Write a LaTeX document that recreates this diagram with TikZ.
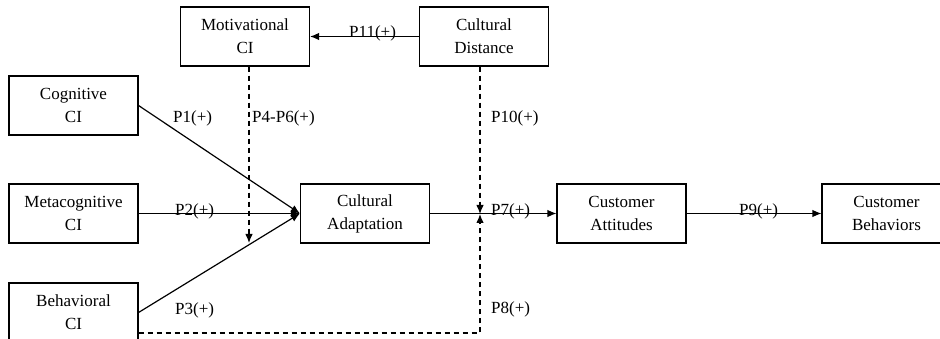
\documentclass[tikz,border=0pt]{standalone}
\usepackage{fontspec}
\setmainfont{Liberation Serif}
\usetikzlibrary{arrows.meta}
\begin{document}
\begin{tikzpicture}[x=1pt,y=-1pt,
  box/.style={draw, line width=1.1pt, minimum width=129pt, minimum height=59pt, align=center, inner sep=0pt, font=\fontsize{17}{23}\selectfont},
  lbl/.style={anchor=base west, inner sep=0pt, font=\fontsize{17}{23}\selectfont},
  conn/.style={line width=1.2pt, -{Latex[length=9pt,width=7.5pt]}},
  dconn/.style={line width=1.1pt, dash pattern=on 5pt off 4pt, -{Latex[length=9pt,width=7.5pt]}}]
\useasboundingbox (0,0) rectangle (940,339);
\clip (0,0) rectangle (940,339);
\fill[white] (0,0) rectangle (940,339);
\node[box] (mot) at (245,36.5) {Motivational\\CI};
\node[box] (cd) at (484,36.5) {Cultural\\Distance};
\node[box] (cog) at (73.5,105.5) {Cognitive\\CI};
\node[box] (meta) at (73.5,213.5) {Metacognitive\\CI};
\node[box] (beh) at (73.5,312.5) {Behavioral\\CI};
\node[box] (ca) at (365,213.5) {Cultural\\Adaptation};
\node[box] (att) at (621.5,213.5) {Customer\\Attitudes};
\node[box] (cb) at (886.5,213.5) {Customer\\Behaviors};
\coordinate (mtip) at (249,243);
\coordinate (j) at (480,214);
\coordinate (bc) at (480,333);
% solid connectors
\draw[conn] (cd.west) -- (mot.east);
\draw[conn] (cog.east) -- (ca.west);
\draw[conn] (meta.east) -- (ca.west);
\draw[conn] (beh.east) -- (ca.west);
\draw[conn] (ca.east) -- (att.west);
\draw[conn] (att.east) -- (cb.west);
% dashed moderators
\draw[dconn] (mtip |- mot.south) -- (mtip);
\draw[dconn] (j |- cd.south) -- (j);
\draw[dconn] (beh.east |- bc) -- (bc) -- (j);
% labels
\node[lbl] (p11) at (349,38) {P11(+)};
\node[lbl] (p1) at (173,123) {P1(+)};
\node[lbl] (p46) at (252,123) {P4-P6(+)};
\node[lbl] (p10) at (491,123) {P10(+)};
\node[lbl] (p2) at (175,216) {P2(+)};
\node[lbl] (p3) at (175,314) {P3(+)};
\node[lbl] (p7) at (491,216) {P7(+)};
\node[lbl] (p8) at (491,313) {P8(+)};
\node[lbl] (p9) at (739,216) {P9(+)};
\end{tikzpicture}
\end{document}
